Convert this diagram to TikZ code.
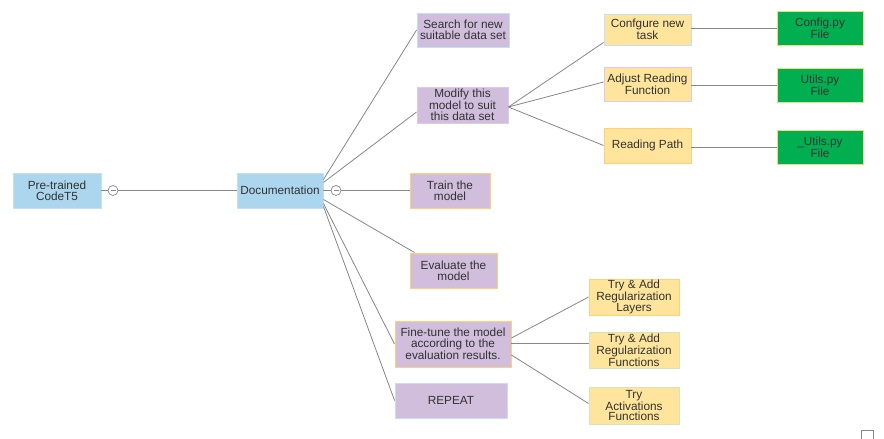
\documentclass[tikz,border=0pt]{standalone}
\usepackage{fontspec}
\setmainfont{Liberation Sans}
\begin{document}
\definecolor{bluefill}{RGB}{171,214,238}
\definecolor{purplefill}{RGB}{208,190,220}
\definecolor{yellowfill}{RGB}{255,229,155}
\definecolor{greenfill}{RGB}{0,176,80}
\definecolor{bdblue}{RGB}{196,224,244}
\definecolor{bdorange}{RGB}{255,208,120}
\definecolor{bdpink}{RGB}{226,200,226}
\definecolor{bdgreen}{RGB}{212,230,182}
\definecolor{bdyellow}{RGB}{240,220,120}
\definecolor{linkgray}{RGB}{135,135,135}
\definecolor{txt}{RGB}{50,50,50}
\tikzset{
  box/.style={rectangle, draw, line width=0.9pt, inner sep=0pt, align=center,
    text=txt, font=\fontsize{11.8}{10.8}\selectfont},
  bluebox/.style={box, fill=bluefill, draw=bdblue},
  purplebox/.style={box, fill=purplefill},
  yellowbox/.style={box, fill=yellowfill},
  greenbox/.style={box, fill=greenfill, draw=bdyellow},
  link/.style={draw=linkgray, line width=0.8pt},
  toggle/.style={circle, draw=linkgray, fill=white, line width=0.7pt,
    minimum size=10pt, inner sep=0pt}
}
\begin{tikzpicture}[x=1pt,y=-1pt]
\useasboundingbox (0,0) rectangle (884,439);
\fill[white] (0,0) rectangle (884,439);

% root and hub
\node[bluebox, minimum width=88pt, minimum height=35pt] (pre) at (57,190.5) {Pre-trained\\CodeT5};
\node[bluebox, minimum width=86pt, minimum height=35pt] (doc) at (280,190.5) {Documentation};
\node[toggle] (t1) at (113,190.5) {};
\node[toggle] (t2) at (336,190.5) {};
\draw[linkgray, line width=0.8pt] ([xshift=-2.5pt]t1.center) -- ([xshift=2.5pt]t1.center);
\draw[linkgray, line width=0.8pt] ([xshift=-2.5pt]t2.center) -- ([xshift=2.5pt]t2.center);

% steps
\node[purplebox, draw=bdblue, minimum width=92pt, minimum height=34pt] (search) at (463,30) {Search for new\\suitable data set};
\node[purplebox, draw=bdpink, minimum width=91pt, minimum height=36pt] (modify) at (462.5,105) {Modify this\\model to suit\\this data set};
\node[purplebox, draw=bdorange, minimum width=80pt, minimum height=35pt] (train) at (450,190.5) {Train the\\model};
\node[purplebox, draw=bdorange, minimum width=87pt, minimum height=35pt] (eval) at (453.5,270.5) {Evaluate the\\model};
\node[purplebox, draw=bdorange, minimum width=116pt, minimum height=46pt] (fine) at (453,344) {Fine-tune the model\\according to the\\evaluation results.};
\node[purplebox, draw=bdblue, minimum width=112pt, minimum height=35pt] (repeat) at (451,400.5) {REPEAT};

% modification details
\node[yellowbox, draw=bdblue, minimum width=87pt, minimum height=31pt] (conf) at (647.5,29.5) {Confgure new\\task};
\node[yellowbox, draw=bdpink, minimum width=87pt, minimum height=34pt] (adj) at (647.5,84) {Adjust Reading\\Function};
\node[yellowbox, draw=bdorange, minimum width=87pt, minimum height=35pt] (rpath) at (647.5,145.5) {Reading Path};
\node[greenbox, minimum width=86pt, minimum height=34pt] (cfg) at (820,28) {Config.py\\File};
\node[greenbox, minimum width=86pt, minimum height=34pt] (utl) at (820,85) {Utils.py\\File};
\node[greenbox, minimum width=86pt, minimum height=34pt] (uutl) at (820,147) {\_Utils.py\\File};

% fine-tuning details
\node[yellowbox, draw=bdorange, minimum width=90pt, minimum height=36pt] (layers) at (634,297) {Try \& Add\\Regularization\\Layers};
\node[yellowbox, draw=bdgreen, minimum width=90pt, minimum height=36pt] (funcs) at (634,350) {Try \& Add\\Regularization\\Functions};
\node[yellowbox, draw=bdgreen, minimum width=90pt, minimum height=37pt] (act) at (634,405.5) {Try\\Activations\\Functions};

% connectors
\path[link] (pre.east) -- (t1.west);
\path[link] (t1.east) -- (doc.west);
\path[link] (doc.east) -- (t2.west);
\path[link] (t2.east) -- (train.west);
\path[link] ([yshift=11pt]doc.east) -- (search.west);
\path[link] ([yshift=8pt]doc.east) -- ([yshift=-7pt]modify.west);
\path[link] ([yshift=-9pt]doc.east) -- ([xshift=5pt]eval.north west);
\path[link] ([yshift=-13pt]doc.east) -- (fine.west);
\path[link] ([yshift=-16pt]doc.east) -- (repeat.west);

\path[link] ([yshift=-2pt]modify.east) -- ([yshift=3pt]conf.south west);
\path[link] ([yshift=-2pt]modify.east) -- ([yshift=2pt]adj.west);
\path[link] ([yshift=-2pt]modify.east) -- (rpath.west);
\path[link] ([yshift=1.5pt]conf.east) -- ([yshift=1.5pt]conf.east -| cfg.west);
\path[link] ([yshift=-1pt]adj.east) -- ([yshift=-1pt]adj.east -| utl.west);
\path[link] ([yshift=-1.5pt]rpath.east) -- ([yshift=-1.5pt]rpath.east -| uutl.west);

\path[link] ([yshift=6pt]fine.east) -- (layers.west);
\path[link] ([yshift=1pt]fine.east) -- ([yshift=1pt]fine.east -| funcs.west);
\path[link] ([yshift=-11pt]fine.east) -- ([yshift=2pt]act.west);

% small marker at the lower right corner
\draw[linkgray, line width=0.8pt] (861,441) -- (861,430) -- (873,430) -- (873,441);
\end{tikzpicture}
\end{document}
